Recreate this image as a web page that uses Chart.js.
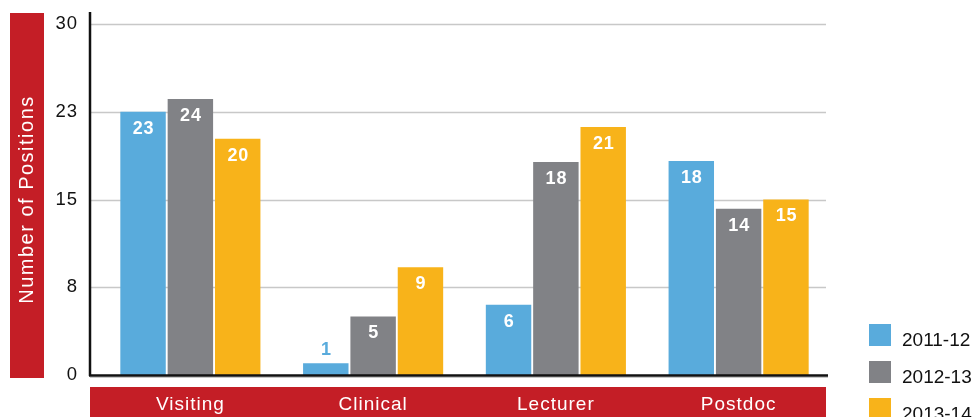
<!DOCTYPE html>
<html>
<head>
<meta charset="UTF-8">
<title>Number of Positions</title>
<script src="https://cdn.jsdelivr.net/npm/chart.js"></script>
<style>
    html, body { margin: 0; padding: 0; background: #fff; overflow: hidden; }
    #wrap { width: 976px; height: 432px; }
</style>
</head>
<body>
<div id="wrap"><canvas id="positionsChart" width="976" height="432"></canvas></div>
<script>
const categories = ['Visiting', 'Clinical', 'Lecturer', 'Postdoc'];
const seriesNames = ['2011-12', '2012-13', '2013-14'];
const values1112 = [22.5, 1, 6, 18.3];
const values1213 = [23.6, 5, 18.2, 14.2];
const values1314 = [20.2, 9.2, 21.2, 15];
const yTicks = [0, 7.5, 15, 22.5, 30];
const yTitle = 'Number of Positions';

const colors = ['#59abdc', '#818286', '#f8b31a'];
const RED = '#c41e26';
const FONT = "'Liberation Sans', Helvetica, Arial, sans-serif";

// bands, gridlines, axis lines, value labels and the legend
const framePlugin = {
    id: 'frame',
    beforeDraw(chart) {
        const ctx = chart.ctx, a = chart.chartArea;
        ctx.save();
        ctx.fillStyle = RED;
        ctx.fillRect(10, 13, 34, 365);
        ctx.fillRect(a.left - 9, a.bottom + 12, a.right - a.left + 5, chart.height - a.bottom - 12);
        // y axis title
        ctx.translate(27, (a.top + a.bottom) / 2);
        ctx.rotate(-Math.PI / 2);
        ctx.letterSpacing = '1.5px';
        ctx.font = '20px ' + FONT;
        ctx.fillStyle = '#fff';
        ctx.textAlign = 'center';
        ctx.textBaseline = 'middle';
        ctx.fillText(yTitle, 0, 0);
        ctx.restore();
        // tick labels are a little tracked out
        ctx.letterSpacing = '1px';
    },
    beforeDatasetsDraw(chart) {
        const ctx = chart.ctx, a = chart.chartArea, y = chart.scales.y;
        ctx.save();
        ctx.strokeStyle = '#c8c8c8';
        ctx.lineWidth = 1.5;
        y.ticks.forEach(t => {
            if (t.value === 0) return;
            const py = Math.round(y.getPixelForValue(t.value)) + 0.5;
            ctx.beginPath();
            ctx.moveTo(a.left - 9, py);
            ctx.lineTo(a.right - 4, py);
            ctx.stroke();
        });
        ctx.restore();
    },
    afterDatasetsDraw(chart) {
        const ctx = chart.ctx, a = chart.chartArea;
        ctx.save();
        // axes
        ctx.strokeStyle = '#c8c8c8';
        ctx.lineWidth = 1;
        ctx.beginPath();
        ctx.moveTo(a.left - 9, a.bottom + 2.5);
        ctx.lineTo(a.right - 2, a.bottom + 2.5);
        ctx.stroke();
        ctx.strokeStyle = '#111';
        ctx.lineWidth = 2.5;
        ctx.beginPath();
        ctx.moveTo(a.left - 9, a.top - 12);
        ctx.lineTo(a.left - 9, a.bottom + 1);
        ctx.moveTo(a.left - 10, a.bottom + 0.5);
        ctx.lineTo(a.right - 2, a.bottom + 0.5);
        ctx.stroke();

        // value labels
        ctx.letterSpacing = '0.8px';
        ctx.font = 'bold 18px ' + FONT;
        ctx.textAlign = 'center';
        ctx.textBaseline = 'middle';
        chart.data.datasets.forEach((ds, i) => {
            chart.getDatasetMeta(i).data.forEach((bar, j) => {
                const v = ds.data[j];
                const h = bar.base - bar.y;
                if (h > 26) {
                    ctx.fillStyle = '#fff';
                    ctx.fillText(Math.round(v), bar.x + 0.5, bar.y + 17);
                } else {
                    ctx.fillStyle = ds.backgroundColor;
                    ctx.fillText(Math.round(v), bar.x + 0.5, bar.y - 13);
                }
            });
        });

        // legend
        ctx.letterSpacing = '0px';
        ctx.font = '19px ' + FONT;
        ctx.textAlign = 'left';
        chart.data.datasets.forEach((ds, i) => {
            const top = 324 + i * 37;
            ctx.fillStyle = ds.backgroundColor;
            ctx.fillRect(869, top, 22, 22);
            ctx.fillStyle = '#111';
            ctx.fillText(ds.label, 902, top + 17);
        });
        ctx.restore();
    }
};

new Chart(document.getElementById('positionsChart'), {
    type: 'bar',
    data: {
        labels: categories,
        datasets: [values1112, values1213, values1314].map((vals, i) => ({
            label: seriesNames[i],
            data: vals,
            backgroundColor: colors[i],
            categoryPercentage: 0.777,
            barPercentage: 0.96
        }))
    },
    options: {
        responsive: false,
        animation: false,
        devicePixelRatio: 1,
        layout: { padding: { left: 15, right: 146, top: 24, bottom: 0 } },
        plugins: {
            legend: { display: false },
            tooltip: { enabled: false }
        },
        scales: {
            x: {
                grid: { display: false, drawTicks: false },
                border: { display: false },
                ticks: { color: '#fff', font: { family: FONT, size: 19 }, padding: 18 },
                afterFit(s) { s.height = 57; }
            },
            y: {
                min: 0,
                max: 30,
                afterBuildTicks(s) { s.ticks = yTicks.map(v => ({ value: v })); },
                grid: { display: false, drawTicks: false },
                border: { display: false },
                ticks: {
                    color: '#111',
                    font: { family: FONT, size: 18.5 },
                    padding: 21,
                    callback: v => Math.round(v)
                },
                afterFit(s) {
                    s.width = 84;
                    s.paddingTop = 0;
                    s.paddingBottom = 0;
                }
            }
        }
    },
    plugins: [framePlugin]
});
</script>
</body>
</html>
